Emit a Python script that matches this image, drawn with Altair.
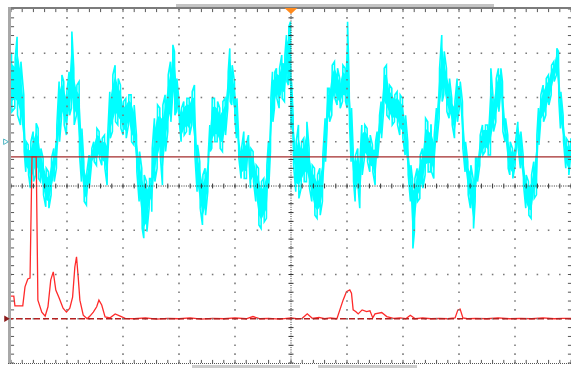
import altair as alt
import pandas as pd

# ---------------- data (time and amplitude in screen divisions) ----------------
# CH1 (cyan, noisy signal): per time column, upper and lower extremes of the trace
ch1_t = [0.012, 0.071, 0.113, 0.173, 0.232, 0.268, 0.310, 0.351, 0.399, 0.446,
         0.488, 0.530, 0.577, 0.625, 0.673, 0.720, 0.768, 0.815, 0.863, 0.905,
         0.946, 0.994, 1.042, 1.083, 1.125, 1.173, 1.220, 1.262, 1.304, 1.351,
         1.399, 1.440, 1.482, 1.530, 1.577, 1.625, 1.673, 1.720, 1.768, 1.815,
         1.863, 1.911, 1.958, 2.006, 2.054, 2.101, 2.149, 2.196, 2.244, 2.292,
         2.339, 2.375, 2.423, 2.470, 2.506,
         2.518, 2.565, 2.613, 2.661, 2.708, 2.756, 2.804, 2.851, 2.887, 2.923,
         2.958, 3.006, 3.042, 3.089, 3.137, 3.185, 3.232, 3.280, 3.327, 3.375,
         3.423, 3.470, 3.518, 3.554, 3.589, 3.637, 3.685, 3.732, 3.780, 3.827,
         3.875, 3.911, 3.946, 3.994, 4.030, 4.065, 4.113, 4.161, 4.208, 4.244,
         4.280, 4.327, 4.375, 4.423, 4.470, 4.518, 4.565, 4.601, 4.637, 4.673,
         4.708, 4.744, 4.792, 4.839, 4.887, 4.923, 4.958, 4.994,
         5.006, 5.042, 5.089, 5.137, 5.185, 5.232, 5.280, 5.327, 5.375, 5.423,
         5.470, 5.518, 5.565, 5.613, 5.649, 5.685, 5.732, 5.780, 5.827, 5.875,
         5.923, 5.970, 6.006, 6.042, 6.077, 6.113, 6.149, 6.196, 6.232, 6.268,
         6.315, 6.363, 6.411, 6.458, 6.506, 6.542, 6.577, 6.613, 6.661, 6.708,
         6.756, 6.804, 6.851, 6.899, 6.946, 6.994, 7.042, 7.089, 7.137, 7.173,
         7.208, 7.256, 7.304, 7.351, 7.399, 7.446, 7.494,
         7.506, 7.554, 7.601, 7.649, 7.696, 7.732, 7.780, 7.827, 7.875, 7.923,
         7.970, 8.018, 8.065, 8.113, 8.161, 8.208, 8.256, 8.292, 8.327, 8.375,
         8.423, 8.470, 8.518, 8.565, 8.613, 8.661, 8.708, 8.744, 8.780, 8.827,
         8.875, 8.911, 8.958, 9.006, 9.054, 9.101, 9.149, 9.196, 9.244, 9.292,
         9.339, 9.387, 9.423, 9.458, 9.506, 9.554, 9.601, 9.649, 9.696, 9.744,
         9.780, 9.815, 9.863, 9.911, 9.958, 9.994]
ch1_hi = [3.00, 2.89, 3.37, 2.81, 2.06, 1.00, 0.93, 1.00, 1.23, 1.42,
          1.30, 0.85, 0.63, 0.40, 0.32, 0.63, 0.85, 1.38, 2.36, 2.51,
          2.36, 2.13, 2.58, 3.49, 2.66, 2.28, 2.36, 1.30, 0.55, 0.32,
          0.70, 0.85, 1.00, 1.30, 1.23, 1.08, 1.15, 1.08, 2.13, 2.51,
          2.73, 2.43, 2.28, 1.91, 1.98, 2.06, 2.06, 1.83, 1.15, 0.78,
          0.40, 0.25, 0.10, 0.17, 0.17,
          0.85, 1.53, 1.83, 1.76, 1.83, 2.06, 2.51, 2.81, 3.19, 3.04,
          2.43, 1.91, 1.76, 1.91, 1.98, 1.98, 2.13, 2.28, 0.93, 0.55,
          0.25, 0.40, 0.70, 1.38, 1.98, 1.98, 1.91, 1.76, 1.91, 1.98,
          2.58, 3.11, 2.73, 2.36, 1.98, 1.23, 0.85, 1.23, 1.00, 1.15,
          0.85, 0.78, 0.47, 0.40, 0.10, 0.17, 0.47, 1.00, 1.98, 2.58,
          2.58, 2.66, 2.66, 2.96, 2.96, 3.41, 3.60, 3.71,
          2.36, 1.60, 1.00, 1.38, 1.00, 1.08, 1.45, 0.85, 0.47, 0.40,
          0.25, 0.40, 0.70, 1.53, 2.21, 2.21, 2.73, 2.81, 2.66, 2.43,
          2.73, 2.66, 3.71, 2.36, 1.76, 0.85, 0.70, 0.85, 0.70, 1.38,
          1.38, 1.30, 1.15, 0.93, 1.00, 1.23, 1.60, 1.91, 2.66, 2.73,
          2.28, 2.21, 2.06, 2.13, 2.06, 1.98, 1.60, 1.00, 0.47, 0.17,
          0.17, 0.40, 0.70, 0.85, 1.53, 1.45, 1.38,
          1.38, 1.15, 1.76, 2.66, 3.41, 3.04, 2.66, 2.43, 1.98, 1.91,
          2.43, 2.36, 1.91, 1.00, 0.55, 0.47, 0.17, 0.63, 0.63, 1.15,
          1.38, 1.38, 1.38, 2.66, 1.98, 2.43, 2.66, 2.66, 2.36, 1.53,
          1.15, 1.00, 0.85, 1.00, 1.45, 1.23, 0.70, 0.25, 0.10, 0.25,
          0.55, 1.15, 1.76, 2.06, 2.28, 2.43, 2.51, 2.73, 2.81, 3.11,
          3.04, 2.13, 1.60, 1.08, 1.00, 1.08]
ch1_lo = [1.68, 1.76, 1.60, 1.38, 0.78, 0.32, 0.25, -0.05, 0.10, 0.25,
          0.17, 0.10, -0.20, -0.47, -0.50, -0.20, 0.10, 0.40, 1.00, 1.53,
          1.38, 1.15, 1.60, 1.76, 1.38, 1.60, 0.70, 0.10, -0.35, -0.43,
          0.02, 0.47, 0.55, 0.47, 0.63, 0.47, 0.40, 0.02, 1.08, 1.23,
          1.45, 1.38, 1.30, 1.15, 1.08, 1.38, 1.00, 0.93, 0.32, -0.35,
          -0.96, -1.18, -1.03, -0.50, -0.35,
          -0.58, 0.10, 0.40, 0.70, 0.02, 0.78, 1.23, 1.45, 1.98, 1.60,
          1.68, 1.38, 1.00, 1.15, 1.23, 1.15, 1.38, 0.70, -0.13, -0.50,
          -0.88, -0.66, -0.13, 0.78, 0.85, 1.00, 1.00, 0.85, 0.78, 1.15,
          1.76, 1.91, 1.83, 1.53, 1.08, 0.63, 0.17, 0.17, 0.17, 0.63,
          -0.05, 0.10, -0.35, -0.88, -0.96, -0.81, -0.73, 0.02, 0.78, 1.45,
          1.76, 1.98, 1.76, 1.98, 1.91, 2.36, 2.28, 1.83,
          1.30, 0.47, -0.13, -0.28, -0.05, 0.10, 0.10, -0.05, -0.35, -0.66,
          -0.73, -0.66, -0.35, 0.55, 1.30, 1.45, 1.60, 1.98, 1.83, 1.76,
          1.91, 1.91, 1.76, 1.38, 0.55, 0.10, -0.35, -0.05, -0.50, 0.25,
          0.63, 0.55, 0.32, 0.32, 0.02, 0.63, 1.00, 1.08, 1.76, 1.60,
          1.53, 1.38, 1.45, 1.38, 1.15, 1.08, 0.70, 0.25, -0.35, -1.41,
          -1.03, -0.35, -0.28, -0.05, 0.25, 0.32, 0.32,
          0.32, 0.17, 1.00, 1.53, 1.91, 2.06, 1.68, 1.53, 1.38, 1.08,
          1.45, 1.83, 0.85, 0.32, -0.20, -0.50, -0.96, -0.35, 0.10, 0.47,
          0.70, 0.78, 0.70, 0.70, 1.23, 1.45, 1.68, 2.06, 1.23, 1.00,
          0.40, 0.25, 0.17, 0.47, 0.85, 0.40, 0.02, -0.50, -0.66, -0.73,
          -0.28, -0.20, 0.93, 1.38, 1.45, 1.60, 1.83, 2.06, 2.36, 2.51,
          1.91, 1.30, 1.00, 0.40, 0.25, 0.63]

# CH2 (red trace)
ch2_t = [0.00, 0.05, 0.07, 0.21, 0.25, 0.30, 0.34, 0.375, 0.45, 0.48,
         0.55, 0.61, 0.66, 0.71, 0.755, 0.80, 0.86, 0.93, 0.99, 1.05,
         1.10, 1.14, 1.17, 1.20, 1.23, 1.29, 1.36, 1.41, 1.47, 1.53,
         1.57, 1.62, 1.68, 1.77, 1.86, 1.95, 2.04, 2.2, 2.4, 2.6,
         2.8, 3.0, 3.2, 3.4, 3.6, 3.8, 4.0, 4.2, 4.32, 4.45,
         4.6, 4.8, 5.0, 5.1, 5.2, 5.29, 5.38, 5.5, 5.6, 5.7,
         5.82, 5.93, 5.99, 6.05, 6.08, 6.11, 6.16, 6.20, 6.27, 6.35,
         6.41, 6.46, 6.50, 6.62, 6.71, 6.83, 6.95, 7.05, 7.13, 7.22,
         7.35, 7.5, 7.65, 7.8, 7.93, 7.98, 8.02, 8.07, 8.15, 8.3,
         8.5, 8.7, 8.9, 9.1, 9.3, 9.5, 9.7, 9.85, 10.0]
ch2_v = [-2.49, -2.49, -2.71, -2.71, -2.28, -2.10, -2.08, 0.66, 0.66, -2.58,
         -2.85, -2.94, -2.73, -2.12, -1.94, -2.35, -2.53, -2.76, -2.85, -2.76,
         -2.51, -1.83, -1.60, -2.06, -2.58, -2.92, -3.00, -2.94, -2.85, -2.73,
         -2.58, -2.69, -2.96, -2.98, -2.89, -2.94, -2.99, -3.00, -2.98, -3.01,
         -2.99, -3.00, -2.98, -3.01, -2.99, -3.00, -2.98, -3.00, -2.95, -3.00,
         -2.99, -3.01, -2.98, -3.00, -2.99, -2.89, -2.99, -2.97, -3.00, -2.98,
         -3.00, -2.58, -2.39, -2.35, -2.42, -2.80, -2.84, -2.89, -2.80, -2.84,
         -2.82, -2.98, -2.89, -2.86, -2.95, -2.99, -2.98, -3.00, -2.92, -3.00,
         -2.98, -3.00, -2.99, -3.00, -2.98, -2.80, -2.78, -2.98, -3.00, -2.99,
         -3.00, -2.98, -3.00, -2.99, -3.00, -2.98, -3.00, -2.99, -2.99]

trigger_level = [0.66]
ch1_ground = [1.0]
ch2_ground = [-3.0]
trigger_time = [5.0]
major_x = list(range(0, 11))
major_y = list(range(-4, 5))
minor_x = [i / 5 for i in range(0, 51)]
minor_y = [i / 5 - 4 for i in range(0, 41)]

# ---------------- chart ----------------
W, H = 560, 354
xs = alt.Scale(domain=[0, 10], nice=False, zero=False)
ys = alt.Scale(domain=[-4, 4], nice=False, zero=False)


def X(f):
    return alt.X(f, type="quantitative", scale=xs, axis=None)


def Y(f):
    return alt.Y(f, type="quantitative", scale=ys, axis=None)


def X2(f):
    return alt.X2(f)


def Y2(f):
    return alt.Y2(f)


# cyan trace: band between the extremes plus a vertical zig-zag for the spiky edges
band_df = pd.DataFrame({"t": ch1_t, "hi": ch1_hi, "lo": ch1_lo})
# shrink band slightly so the spikes stand out
band_df["hi_in"] = band_df["hi"] - (band_df["hi"] - band_df["lo"]) * 0.18
band_df["lo_in"] = band_df["lo"] + (band_df["hi"] - band_df["lo"]) * 0.18
band = alt.Chart(band_df).mark_area(color="#00ffff", opacity=1).encode(
    x=X("t"), y=Y("lo_in"), y2=Y2("hi_in"))

rows = []
for i, (t, h, l) in enumerate(zip(ch1_t, ch1_hi, ch1_lo)):
    a, b = (h, l) if i % 2 == 0 else (l, h)
    rows.append({"seq": 2 * i, "t": t - 0.004, "v": a})
    rows.append({"seq": 2 * i + 1, "t": t + 0.004, "v": b})
ch1_df = pd.DataFrame(rows)
cyan = alt.Chart(ch1_df).mark_line(color="#00ffff", strokeWidth=1.6).encode(
    x=X("t"), y=Y("v"), order=alt.Order("seq:Q"))

ch2_df = pd.DataFrame({"t": ch2_t, "v": ch2_v, "seq": list(range(len(ch2_t)))})
red = alt.Chart(ch2_df).mark_line(color="#ff2a2a", strokeWidth=1.3).encode(
    x=X("t"), y=Y("v"), order=alt.Order("seq:Q"))

# grid dots
dots = []
for gx in major_x[1:-1]:
    if gx == 5:
        continue
    for yy in minor_y:
        dots.append({"x": gx, "y": yy})
for gy in major_y[1:-1]:
    if gy == 0:
        continue
    for xx in minor_x:
        dots.append({"x": xx, "y": gy})
grid = alt.Chart(pd.DataFrame(dots)).mark_square(size=2.5, color="#7a7a7a", opacity=1).encode(
    x=X("x"), y=Y("y"))

# center lines
ctr_h = alt.Chart(pd.DataFrame({"y": [0]})).mark_rule(color="#333333", strokeDash=[1, 1.3], strokeWidth=1).encode(y=Y("y"))
ctr_v = alt.Chart(pd.DataFrame({"x": [5]})).mark_rule(color="#333333", strokeDash=[1, 1.3], strokeWidth=1).encode(x=X("x"))
tick_h = alt.Chart(pd.DataFrame({"x": minor_x, "y": [-0.055] * len(minor_x), "y2": [0.055] * len(minor_x)})).mark_rule(
    color="#333333", strokeWidth=1).encode(x=X("x"), y=Y("y"), y2=Y2("y2"))
tick_v = alt.Chart(pd.DataFrame({"y": minor_y, "x": [4.955] * len(minor_y), "x2": [5.045] * len(minor_y)})).mark_rule(
    color="#333333", strokeWidth=1).encode(y=Y("y"), x=X("x"), x2=X2("x2"))

# border ticks
bt = []
for xx in minor_x:
    bt.append({"x": xx, "x2": xx, "y": 4, "y2": 3.93})
    bt.append({"x": xx, "x2": xx, "y": -4, "y2": -3.93})
for yy in minor_y:
    bt.append({"x": 0, "x2": 0.055, "y": yy, "y2": yy})
    bt.append({"x": 10, "x2": 9.945, "y": yy, "y2": yy})
border_ticks = alt.Chart(pd.DataFrame(bt)).mark_rule(color="#555555", strokeWidth=1).encode(
    x=X("x"), x2=X2("x2"), y=Y("y"), y2=Y2("y2"))

one = pd.DataFrame({"a": [0]})
# chrome: top bar, left strip, bottom line, status bars
top_light = alt.Chart(one).mark_rect(color="#c4c4c4").encode(
    x=alt.value(165), x2=alt.value(483), y=alt.value(-5), y2=alt.value(-2))
top_dark = alt.Chart(one).mark_rule(color="#7c7c7c", strokeWidth=2).encode(
    x=alt.value(-3), x2=alt.value(W), y=alt.value(-1))
left_strip = alt.Chart(one).mark_rule(color="#a8a8a8", strokeWidth=3).encode(
    x=alt.value(-1.5), y=alt.value(-2), y2=alt.value(H + 1))
bottom_line = alt.Chart(one).mark_rule(color="#555555", strokeWidth=1.2, strokeDash=[1, 1]).encode(
    x=alt.value(-3), x2=alt.value(W), y=alt.value(H + 0.5))
status1 = alt.Chart(one).mark_rect(color="#cccccc").encode(
    x=alt.value(181), x2=alt.value(289), y=alt.value(H + 2), y2=alt.value(H + 5))
status2 = alt.Chart(one).mark_rect(color="#cccccc").encode(
    x=alt.value(307), x2=alt.value(406), y=alt.value(H + 2), y2=alt.value(H + 5))

# reference lines
trig_line = alt.Chart(pd.DataFrame({"y": trigger_level})).mark_rule(color="#a32b2b", strokeWidth=1.2).encode(y=Y("y"))
ch2_base = alt.Chart(pd.DataFrame({"y": ch2_ground})).mark_rule(color="#b42020", strokeWidth=1.3, strokeDash=[6, 3]).encode(y=Y("y"))

# markers
trig_mark = alt.Chart(pd.DataFrame({"x": trigger_time})).mark_point(
    shape="M-1,-0.45L1,-0.45L0,0.45Z", size=169, filled=True, color="#ff8a1c", opacity=1).encode(
    x=X("x"), y=alt.value(2))
ch1_mark = alt.Chart(pd.DataFrame({"y": ch1_ground})).mark_point(
    shape="triangle-right", size=30, filled=False, color="#4fb6c4", strokeWidth=1, opacity=1).encode(
    x=alt.value(-5), y=Y("y"))
ch2_mark = alt.Chart(pd.DataFrame({"y": ch2_ground})).mark_point(
    shape="triangle-right", size=40, filled=True, color="#8b1a1a", opacity=1).encode(
    x=alt.value(-4), y=Y("y"))

chart = alt.layer(
    top_light, band, cyan, red, grid, ctr_h, ctr_v, tick_h, tick_v, border_ticks,
    trig_line, ch2_base, top_dark, left_strip, bottom_line, status1, status2,
    trig_mark, ch1_mark, ch2_mark,
).properties(
    width=W, height=H,
    autosize=alt.AutoSizeParams(type="none"),
    padding={"left": 11, "top": 9, "right": 0, "bottom": 5},
    background="white",
).configure_view(stroke=None)

chart.save("out.html", embed_options={"renderer": "svg", "actions": False})
